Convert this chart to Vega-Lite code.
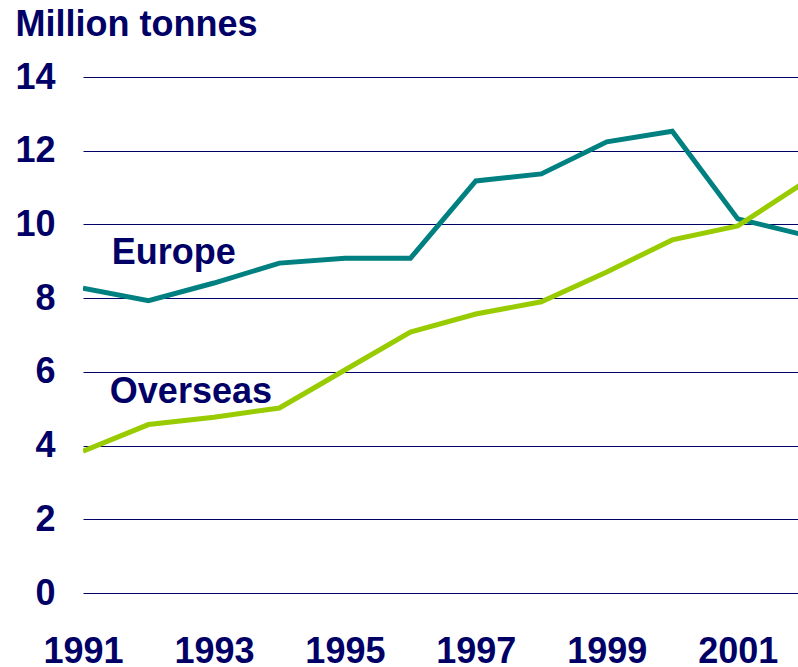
{
  "$schema": "https://vega.github.io/schema/vega-lite/v6.json",
  "autosize": "none",
  "width": 715,
  "height": 516,
  "padding": {"left": 83, "top": 77, "right": 0, "bottom": 74},
  "background": "white",
  "config": {
    "view": {"stroke": null},
    "font": "Liberation Sans"
  },
  "datasets": {
    "series": [
      {"year": 1991, "region": "Europe", "value": 8.27},
      {"year": 1992, "region": "Europe", "value": 7.93},
      {"year": 1993, "region": "Europe", "value": 8.41},
      {"year": 1994, "region": "Europe", "value": 8.95},
      {"year": 1995, "region": "Europe", "value": 9.08},
      {"year": 1996, "region": "Europe", "value": 9.08},
      {"year": 1997, "region": "Europe", "value": 11.18},
      {"year": 1998, "region": "Europe", "value": 11.37},
      {"year": 1999, "region": "Europe", "value": 12.24},
      {"year": 2000, "region": "Europe", "value": 12.53},
      {"year": 2001, "region": "Europe", "value": 10.15},
      {"year": 2002, "region": "Europe", "value": 9.72},
      {"year": 1991, "region": "Overseas", "value": 3.85},
      {"year": 1992, "region": "Overseas", "value": 4.57},
      {"year": 1993, "region": "Overseas", "value": 4.77},
      {"year": 1994, "region": "Overseas", "value": 5.02},
      {"year": 1995, "region": "Overseas", "value": 6.05},
      {"year": 1996, "region": "Overseas", "value": 7.08},
      {"year": 1997, "region": "Overseas", "value": 7.57},
      {"year": 1998, "region": "Overseas", "value": 7.9},
      {"year": 1999, "region": "Overseas", "value": 8.71},
      {"year": 2000, "region": "Overseas", "value": 9.58},
      {"year": 2001, "region": "Overseas", "value": 9.96},
      {"year": 2002, "region": "Overseas", "value": 11.12}
    ],
    "labels": [
      {"year": 1991.44, "value": 8.93, "text": "Europe"},
      {"year": 1991.41, "value": 5.15, "text": "Overseas"}
    ]
  },
  "encoding": {
    "x": {
      "field": "year",
      "type": "quantitative",
      "scale": {"domain": [1991, 2001.92], "nice": false, "zero": false},
      "axis": {
        "values": [1991, 1993, 1995, 1997, 1999, 2001],
        "format": "d",
        "title": null,
        "grid": false,
        "domain": false,
        "ticks": false,
        "tickSize": 0,
        "labelPadding": 69,
        "labelBaseline": "alphabetic",
        "labelFont": "Liberation Sans",
        "labelFontWeight": "bold",
        "labelFontSize": 36,
        "labelColor": "#000066",
        "labelFlush": false,
        "labelOverlap": false
      }
    },
    "y": {
      "field": "value",
      "type": "quantitative",
      "scale": {"domain": [0, 14], "nice": false},
      "axis": {
        "values": [0, 2, 4, 6, 8, 10, 12, 14],
        "title": "Million tonnes",
        "titleAngle": 0,
        "titleAlign": "left",
        "titleBaseline": "alphabetic",
        "titleX": -68,
        "titleY": -42,
        "titleFont": "Liberation Sans",
        "titleFontWeight": "bold",
        "titleFontSize": 36,
        "titleColor": "#000066",
        "grid": true,
        "gridColor": "#000066",
        "gridWidth": 1,
        "gridOpacity": 1,
        "domain": false,
        "ticks": false,
        "tickSize": 0,
        "labelAlign": "right",
        "labelPadding": 28,
        "labelBaseline": "middle",
        "labelFont": "Liberation Sans",
        "labelFontWeight": "bold",
        "labelFontSize": 36,
        "labelColor": "#000066",
        "labelFlush": false,
        "labelOverlap": false
      }
    }
  },
  "layer": [
    {
      "data": {"name": "series"},
      "mark": {"type": "line", "strokeWidth": 5, "clip": true, "strokeJoin": "miter"},
      "encoding": {
        "color": {
          "field": "region",
          "type": "nominal",
          "scale": {"domain": ["Europe", "Overseas"], "range": ["#008080", "#99CC00"]},
          "legend": null
        }
      }
    },
    {
      "data": {"name": "labels"},
      "mark": {
        "type": "text",
        "align": "left",
        "baseline": "alphabetic",
        "font": "Liberation Sans",
        "fontWeight": "bold",
        "fontSize": 36,
        "color": "#000066"
      },
      "encoding": {
        "text": {"field": "text"}
      }
    }
  ]
}
